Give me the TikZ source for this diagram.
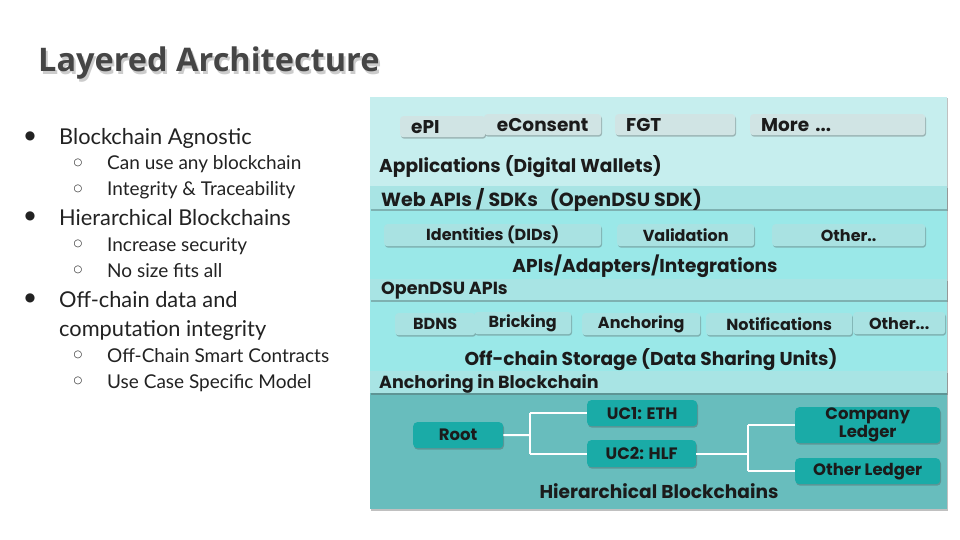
\documentclass[tikz,border=0pt]{standalone}
\usepackage{fontspec}
\setmainfont{Poppins}
\newfontfamily\titlefont{Open Sans}
\newfontfamily\bodyfont{Lato}
\newfontfamily\symfont{DejaVu Sans}
\usetikzlibrary{shadows}
\definecolor{toplayer}{HTML}{C6EEEE}
\definecolor{bandcol}{HTML}{A8E4E4}
\definecolor{midlayer}{HTML}{9AE8E8}
\definecolor{botlayer}{HTML}{68BDBD}
\definecolor{appfill}{HTML}{D0E4E4}
\definecolor{midbox}{HTML}{A9E2E2}
\definecolor{tealbox}{HTML}{1AABA7}
\definecolor{ink}{HTML}{1B1B1B}
\definecolor{titlegray}{HTML}{454545}
\definecolor{bodyink}{HTML}{222222}
\tikzset{
  shad/.style={drop shadow={shadow xshift=0.8pt, shadow yshift=-1.5pt, opacity=0.35, fill=black!70}},
  appbox/.style={fill=appfill, rounded corners=3pt, shad, minimum height=21pt, inner xsep=11pt, inner ysep=0pt, text=ink, font=\bfseries\fontsize{18.5}{18.5}\selectfont, anchor=north west},
  midboxs/.style={fill=midbox, rounded corners=3pt, shad, minimum height=22pt, inner sep=0pt, text=ink, font=\bfseries\fontsize{16}{16}\selectfont, anchor=north west},
  tealb/.style={fill=tealbox, rounded corners=4pt, shad, inner sep=0pt, text=ink, font=\bfseries\fontsize{16.5}{17}\selectfont, anchor=north west, align=center},
  bandtxt/.style={anchor=west, inner sep=0pt, yshift=-2pt, text=ink, font=\bfseries\fontsize{17.5}{18}\selectfont},
  layertxt/.style={anchor=center, inner sep=0pt, yshift=-2pt, text=ink, font=\bfseries\fontsize{18.6}{19}\selectfont},
  mainitem/.style={anchor=base west, inner sep=0pt, text=bodyink, font=\bodyfont\fontsize{21.8}{22}\selectfont},
  subitem/.style={anchor=base west, inner sep=0pt, text=bodyink, font=\bodyfont\fontsize{19}{19}\selectfont},
  bul/.style={anchor=center, inner sep=0pt, text=bodyink, font=\symfont\fontsize{12}{12}\selectfont},
  sbul/.style={anchor=center, inner sep=0pt, text=bodyink, font=\symfont\fontsize{10}{10}\selectfont},
  wire/.style={draw=white, line width=2pt}
}
\begin{document}
\begin{tikzpicture}[x=1pt,y=-1pt]
\useasboundingbox (0,0) rectangle (960,540);
\fill[white] (0,0) rectangle (960,540);
% title
\node[anchor=base west, inner sep=0pt, text=black, opacity=0.2, font=\titlefont\bfseries\fontsize{32.5}{33}\selectfont] (titleshadow) at (40,75) {Layered Architecture};
\node[anchor=base west, inner sep=0pt, text=titlegray, font=\titlefont\bfseries\fontsize{32.5}{33}\selectfont] (title) at (38,72) {Layered Architecture};
% bullets
\node[bul] (b1) at (30,136) {●};
\node[mainitem] (t1) at (59,145) {Blockchain Agnostic};
\node[sbul] (s1) at (78,163) {○};
\node[subitem] (t2) at (107,170) {Can use any blockchain};
\node[sbul] (s2) at (78,189) {○};
\node[subitem] (t3) at (107,196) {Integrity \& Traceability};
\node[bul] (b2) at (30,216) {●};
\node[mainitem] (t4) at (59,225) {Hierarchical Blockchains};
\node[sbul] (s3) at (78,244) {○};
\node[subitem] (t5) at (107,251) {Increase security};
\node[sbul] (s4) at (78,270) {○};
\node[subitem] (t6) at (107,277) {No size fits all};
\node[bul] (b3) at (30,298) {●};
\node[mainitem] (t7) at (59,307) {Off-chain data and};
\node[mainitem] (t8) at (59,336) {computation integrity};
\node[sbul] (s5) at (78,355) {○};
\node[subitem] (t9) at (107,362) {Off-Chain Smart Contracts};
\node[sbul] (s6) at (78,381) {○};
\node[subitem] (t10) at (107,388) {Use Case Specific Model};
% layers
\fill[shad, toplayer] (370,97) rectangle (947,509);
\fill[toplayer] (370,97) rectangle (947,187);
\fill[midlayer] (370,187) rectangle (947,393);
\fill[botlayer] (370,393) rectangle (947,509);
\fill[bandcol, shad] (370,186) rectangle (947,209);
\fill[bandcol, shad] (370,279) rectangle (947,300);
\fill[bandcol, shad] (370,371) rectangle (947,393);
% application boxes
\node[appbox, minimum width=85pt, text width=63pt, align=left] (epi) at (400,116) {ePI};
\node[appbox, minimum width=117pt, inner xsep=0pt] (econs) at (484,114) {eConsent};
\node[appbox, minimum width=120pt, text width=98pt, align=left] (fgt) at (615,114) {FGT};
\node[appbox, minimum width=175pt, text width=153pt, align=left] (more) at (750,114) {More ...};
\node[layertxt, anchor=west] (apps) at (379,165) {Applications (Digital Wallets)};
\node[bandtxt, font=\bfseries\fontsize{19}{19}\selectfont] (webapi) at (381,198) {Web APIs / SDKs\hspace{12pt}(OpenDSU SDK)};
% API boxes
\node[midboxs, minimum width=217pt] (ids) at (384,224) {Identities (DIDs)};
\node[midboxs, minimum width=137pt] (valid) at (617,224) {Validation};
\node[midboxs, minimum width=153pt] (other1) at (772,224) {Other..};
\node[layertxt] (adapters) at (645,264) {APIs/Adapters/Integrations};
\node[bandtxt] (odsu) at (381,289) {OpenDSU APIs};
% off-chain boxes
\node[midboxs, minimum width=80pt] (bdns) at (395,313) {BDNS};
\node[midboxs, minimum width=97pt] (brick) at (474,312) {Bricking};
\node[midboxs, minimum width=118pt] (anch) at (582,313) {Anchoring};
\node[midboxs, minimum width=146pt] (notif) at (706,313) {Notifications};
\node[midboxs, minimum width=92pt] (other2) at (853,312) {Other...};
\node[layertxt] (offchain) at (651,358) {Off-chain Storage (Data Sharing Units)};
\node[bandtxt] (anchbc) at (379,382) {Anchoring in Blockchain};
% hierarchical
\node[tealb, minimum width=90pt, minimum height=26pt] (root) at (413,422) {Root};
\node[tealb, minimum width=110pt, minimum height=26pt] (uc1) at (587,400) {UC1: ETH};
\node[tealb, minimum width=109pt, minimum height=27pt] (uc2) at (587,440) {UC2: HLF};
\node[tealb, minimum width=145pt, minimum height=36pt, font=\bfseries\fontsize{16.5}{18}\selectfont] (comp) at (795,407) {Company\\Ledger};
\node[tealb, minimum width=145pt, minimum height=26pt] (oled) at (795,458) {Other Ledger};
\node[layertxt] (hier) at (659,489) {Hierarchical Blockchains};
\coordinate (j1) at (530,435);
\coordinate (j2) at (748,453);
\draw[wire] (root.east) -- (j1);
\draw[wire] (j1 |- uc1.west) -- (uc1.west);
\draw[wire] (j1 |- uc2.west) -- (uc2.west);
\draw[wire] (j1 |- uc1.west) -- (j1 |- uc2.west);
\draw[wire] (uc2.east) -- (j2 |- uc2.east);
\draw[wire] (j2 |- comp.west) -- (comp.west);
\draw[wire] (j2 |- oled.west) -- (oled.west);
\draw[wire] (j2 |- comp.west) -- (j2 |- oled.west);
\end{tikzpicture}
\end{document}
